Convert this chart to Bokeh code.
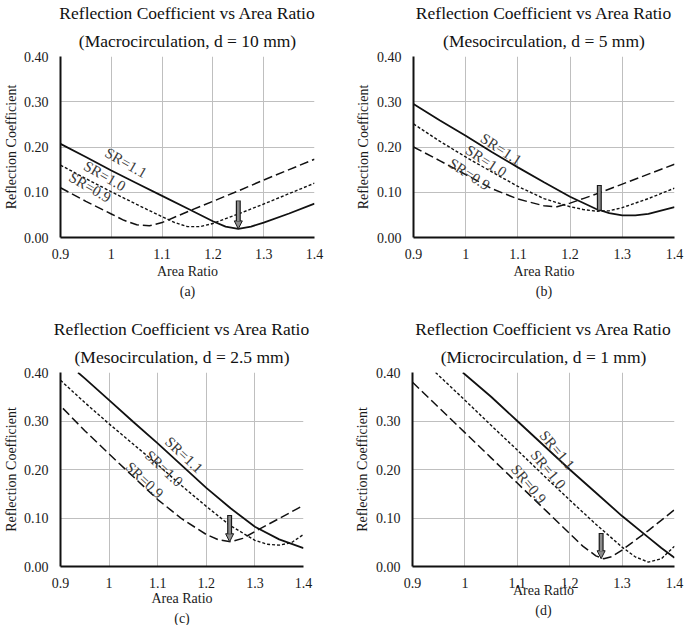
import math
from bokeh.plotting import figure
from bokeh.layouts import column, row
from bokeh.models import (Title, FixedTicker, NumeralTickFormatter, Range1d,
                          Arrow, NormalHead, ColumnDataSource)
from bokeh.core.properties import value
from bokeh.embed import file_html
from bokeh.resources import INLINE

FONT = "Liberation Serif"

# ---------------- shared texts / ticks ----------------
x_ticks = [0.9, 1.0, 1.1, 1.2, 1.3, 1.4]
y_ticks = [0.0, 0.1, 0.2, 0.3, 0.4]
title_main = "Reflection Coefficient vs Area Ratio"
x_label = "Area Ratio"
y_label = "Reflection Coefficient"
series_names = ["SR=1.1", "SR=1.0", "SR=0.9"]

# ---------------- (a) Macrocirculation, d = 10 mm ----------------
a_sub = "(Macrocirculation, d = 10 mm)"
a_caption = "(a)"
a_x_sr11 = [0.9, 0.95, 1.0, 1.05, 1.1, 1.15, 1.2, 1.225, 1.25, 1.275, 1.3, 1.35, 1.4]
a_y_sr11 = [0.207, 0.178, 0.148, 0.12, 0.092, 0.064, 0.036, 0.024, 0.019, 0.024, 0.033, 0.053, 0.075]
a_x_sr10 = [0.9, 0.95, 1.0, 1.05, 1.1, 1.125, 1.15, 1.175, 1.2, 1.25, 1.3, 1.35, 1.4]
a_y_sr10 = [0.16, 0.13, 0.101, 0.073, 0.046, 0.033, 0.024, 0.024, 0.031, 0.052, 0.074, 0.097, 0.12]
a_x_sr09 = [0.9, 0.95, 1.0, 1.025, 1.05, 1.075, 1.1, 1.15, 1.2, 1.25, 1.3, 1.35, 1.4]
a_y_sr09 = [0.11, 0.08, 0.052, 0.038, 0.028, 0.026, 0.033, 0.057, 0.08, 0.103, 0.127, 0.15, 0.173]
a_arrow = [1.25, 0.082, 0.019]          # x, top, tip
a_label_x = [1.029, 0.987, 0.958]
a_label_y = [0.165, 0.136, 0.111]
a_label_angle = -30

# ---------------- (b) Mesocirculation, d = 5 mm ----------------
b_sub = "(Mesocirculation, d = 5 mm)"
b_caption = "(b)"
b_x_sr11 = [0.9, 0.95, 1.0, 1.05, 1.1, 1.15, 1.2, 1.25, 1.275, 1.3, 1.325, 1.35, 1.4]
b_y_sr11 = [0.295, 0.259, 0.225, 0.189, 0.155, 0.122, 0.09, 0.063, 0.054, 0.049, 0.049, 0.052, 0.067]
b_x_sr10 = [0.9, 0.95, 1.0, 1.05, 1.1, 1.15, 1.2, 1.225, 1.25, 1.275, 1.3, 1.35, 1.4]
b_y_sr10 = [0.251, 0.213, 0.178, 0.145, 0.113, 0.086, 0.068, 0.062, 0.058, 0.059, 0.066, 0.086, 0.109]
b_x_sr09 = [0.9, 0.95, 1.0, 1.05, 1.1, 1.15, 1.175, 1.2, 1.225, 1.25, 1.3, 1.35, 1.4]
b_y_sr09 = [0.2, 0.17, 0.139, 0.108, 0.085, 0.07, 0.068, 0.076, 0.086, 0.096, 0.118, 0.14, 0.162]
b_arrow = [1.256, 0.116, 0.059]
b_label_x = [1.068, 1.039, 1.007]
b_label_y = [0.195, 0.169, 0.14]
b_label_angle = -33

# ---------------- (c) Mesocirculation, d = 2.5 mm ----------------
c_sub = "(Mesocirculation, d = 2.5 mm)"
c_caption = "(c)"
c_x_sr11 = [0.936, 0.95, 1.0, 1.05, 1.1, 1.15, 1.2, 1.25, 1.3, 1.35, 1.4]
c_y_sr11 = [0.4, 0.388, 0.343, 0.298, 0.254, 0.208, 0.162, 0.12, 0.082, 0.056, 0.038]
c_x_sr10 = [0.9, 0.95, 1.0, 1.05, 1.1, 1.15, 1.2, 1.25, 1.3, 1.325, 1.35, 1.375, 1.4]
c_y_sr10 = [0.384, 0.338, 0.294, 0.252, 0.21, 0.166, 0.124, 0.084, 0.054, 0.046, 0.044, 0.049, 0.066]
c_x_sr09 = [0.905, 0.95, 1.0, 1.05, 1.1, 1.15, 1.2, 1.225, 1.25, 1.275, 1.3, 1.35, 1.4]
c_y_sr09 = [0.326, 0.28, 0.232, 0.185, 0.138, 0.098, 0.066, 0.055, 0.051, 0.058, 0.072, 0.099, 0.126]
c_arrow = [1.248, 0.106, 0.051]
c_label_x = [1.154, 1.113, 1.073]
c_label_y = [0.23, 0.202, 0.178]
c_label_angle = -43

# ---------------- (d) Microcirculation, d = 1 mm ----------------
d_sub = "(Microcirculation, d = 1 mm)"
d_caption = "(d)"
d_x_sr11 = [0.996, 1.05, 1.1, 1.15, 1.2, 1.25, 1.3, 1.35, 1.375, 1.4]
d_y_sr11 = [0.4, 0.35, 0.3, 0.25, 0.2, 0.152, 0.104, 0.06, 0.038, 0.018]
d_x_sr10 = [0.944, 1.0, 1.05, 1.1, 1.15, 1.2, 1.25, 1.3, 1.325, 1.35, 1.375, 1.4]
d_y_sr10 = [0.4, 0.343, 0.291, 0.24, 0.188, 0.137, 0.087, 0.04, 0.02, 0.009, 0.016, 0.042]
d_x_sr09 = [0.9, 0.95, 1.0, 1.05, 1.1, 1.15, 1.2, 1.225, 1.25, 1.265, 1.28, 1.3, 1.35, 1.4]
d_y_sr09 = [0.38, 0.328, 0.276, 0.224, 0.172, 0.12, 0.068, 0.042, 0.022, 0.016, 0.02, 0.034, 0.074, 0.117]
d_arrow = [1.26, 0.069, 0.016]
d_label_x = [1.176, 1.159, 1.122]
d_label_y = [0.24, 0.2, 0.17]
d_label_angle = -50

# ---------------- styles ----------------
line_dashes = ["solid", "3 2", "9 4"]
line_widths = [1.8, 1.4, 1.5]
LINE_COLOR = "#111111"
GRID_COLOR = "#bfbfbf"


def make_title(text, standoff):
    return Title(text=text, align="center", text_font=FONT,
                 text_font_size="17.5px", text_font_style="normal",
                 text_color="#111111", standoff=standoff)


def make_panel(sub, caption, xs, ys, arrow, head, lab_x, lab_y, lab_angle,
               width, height, bl, br, bt, bb, ylab_standoff, xlab_standoff):
    p = figure(width=width, height=height, output_backend="svg",
               toolbar_location=None, title_location=None,
               x_range=Range1d(0.9, 1.4), y_range=Range1d(0.0, 0.4),
               min_border_left=bl, min_border_right=br,
               min_border_top=bt, min_border_bottom=bb)
    p.outline_line_color = None
    p.background_fill_color = "white"
    p.border_fill_color = "white"

    for ax, ticks in ((p.xaxis, x_ticks), (p.yaxis, y_ticks)):
        ax.ticker = FixedTicker(ticks=ticks)
        ax.axis_line_color = "#111111"
        ax.axis_line_width = 2
        ax.major_tick_line_color = None
        ax.minor_tick_line_color = None
        ax.major_tick_out = 0
        ax.major_tick_in = 0
        ax.major_label_text_font = FONT
        ax.major_label_text_font_size = "14px"
        ax.major_label_text_color = "#1a1a1a"
        ax.major_label_standoff = 12
        ax.axis_label_text_font = FONT
        ax.axis_label_text_font_size = "14px"
        ax.axis_label_text_font_style = "normal"
        ax.axis_label_text_color = "#1a1a1a"
    p.xaxis.major_label_standoff = 11
    p.xaxis.formatter = NumeralTickFormatter(format="0.[0]")
    p.yaxis.formatter = NumeralTickFormatter(format="0.00")
    p.xaxis.axis_label = x_label
    p.yaxis.axis_label = y_label
    p.yaxis.axis_label_standoff = ylab_standoff
    p.xaxis.axis_label_standoff = xlab_standoff

    p.xgrid.ticker = FixedTicker(ticks=x_ticks)
    p.ygrid.ticker = FixedTicker(ticks=y_ticks)
    for g in (p.xgrid, p.ygrid):
        g.grid_line_color = GRID_COLOR
        g.grid_line_width = 1

    # two title lines (second line closest to the plot)
    p.add_layout(make_title(sub, 12), "above")
    p.add_layout(make_title(title_main, 0), "above")
    p.add_layout(Title(text=caption, align="center", text_font=FONT,
                       text_font_size="14px", text_font_style="normal",
                       text_color="#1a1a1a", standoff=0), "below")

    for i in range(3):
        src = ColumnDataSource(dict(x=xs[i], y=ys[i]))
        p.line("x", "y", source=src, line_color=LINE_COLOR,
               line_width=line_widths[i], line_dash=line_dashes[i])

    # arrow marker
    ax_x, top, tip = arrow
    frame_h = height - bt - bb
    px = 0.4 / frame_h
    if head:
        p.add_layout(Arrow(end=NormalHead(size=8, fill_color="#8c8c8c",
                                          line_color="#1a1a1a", line_width=1),
                           x_start=ax_x, y_start=top, x_end=ax_x, y_end=tip,
                           line_color="#1a1a1a", line_width=5))
        p.add_layout(Arrow(end=None, x_start=ax_x, y_start=top - px,
                           x_end=ax_x, y_end=tip + 8 * px,
                           line_color="#8c8c8c", line_width=2.6))
    else:
        p.add_layout(Arrow(end=None, x_start=ax_x, y_start=top, x_end=ax_x,
                           y_end=tip, line_color="#1a1a1a", line_width=5))
        p.add_layout(Arrow(end=None, x_start=ax_x, y_start=top - px,
                           x_end=ax_x, y_end=tip + px,
                           line_color="#8c8c8c", line_width=2.6))

    lsrc = ColumnDataSource(dict(x=lab_x, y=lab_y, t=series_names))
    p.text("x", "y", text="t", source=lsrc, angle=math.radians(lab_angle),
           text_font=value(FONT), text_font_size="15px", text_color="#3a3a3a",
           text_align="center", text_baseline="middle")
    return p


pa = make_panel(a_sub, a_caption, [a_x_sr11, a_x_sr10, a_x_sr09],
                [a_y_sr11, a_y_sr10, a_y_sr09], a_arrow, True,
                a_label_x, a_label_y, a_label_angle,
                338, 310, 57, 24, 52, 73, 2, 2)
pb = make_panel(b_sub, b_caption, [b_x_sr11, b_x_sr10, b_x_sr09],
                [b_y_sr11, b_y_sr10, b_y_sr09], b_arrow, False,
                b_label_x, b_label_y, b_label_angle,
                346, 310, 75, 10, 53, 71, 3, 2)
pc = make_panel(c_sub, c_caption, [c_x_sr11, c_x_sr10, c_x_sr09],
                [c_y_sr11, c_y_sr10, c_y_sr09], c_arrow, True,
                c_label_x, c_label_y, c_label_angle,
                338, 315, 55, 35, 62, 58, 2, 0)
pd = make_panel(d_sub, d_caption, [d_x_sr11, d_x_sr10, d_x_sr09],
                [d_y_sr11, d_y_sr10, d_y_sr09], d_arrow, True,
                d_label_x, d_label_y, d_label_angle,
                346, 315, 74, 10, 62, 55, 3, -8)

layout = column(row(pa, pb), row(pc, pd))
open("out.html", "w").write(file_html(layout, INLINE))
